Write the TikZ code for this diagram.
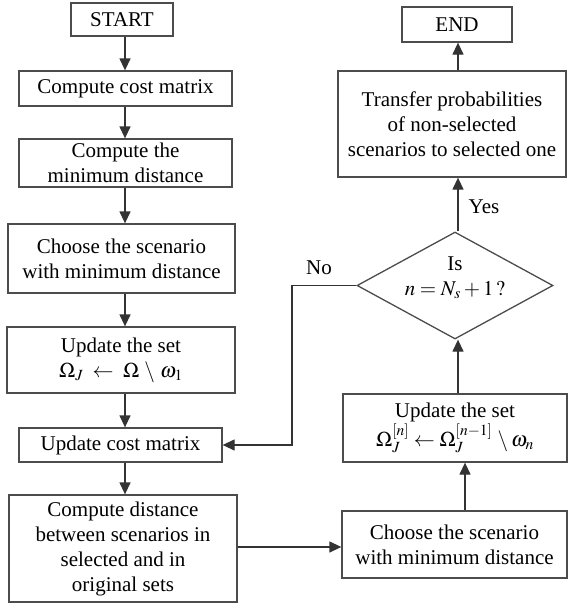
\documentclass[tikz,border=0pt]{standalone}
\usepackage{mathptmx}
\usepackage{fontspec}
\setmainfont{Liberation Serif}
\usetikzlibrary{arrows.meta,shapes.geometric}
\tikzset{
  box/.style={draw=black!70, line width=1.3pt, align=center, inner sep=0pt,
    font=\fontsize{21}{25}\selectfont},
  arr/.style={draw=black!80, line width=1.3pt, -{Triangle[length=12pt,width=11pt]}},
  lbl/.style={font=\fontsize{21}{25}\selectfont},
}
\begin{document}
\begin{tikzpicture}[x=1pt,y=-1pt]
\useasboundingbox (0,0) rectangle (568,605);
% left column
\node[box, minimum width=102pt, minimum height=33pt] (start) at (122,19.5) {START};
\node[box, minimum width=213pt, minimum height=35pt] (cost) at (125.5,88.5) {Compute cost matrix};
\node[box, minimum width=213pt, minimum height=48pt] (mind) at (125.5,163) {Compute the\\minimum distance};
\node[box, minimum width=227pt, minimum height=69pt] (ch1) at (121.5,258.5) {Choose the scenario\\with minimum distance};
\node[box, minimum width=228pt, minimum height=66pt] (up1) at (121,360) {Update the set\\$\Omega_{J}\;\leftarrow\;\Omega\,\setminus\,\omega_{1}$};
\node[box, minimum width=203pt, minimum height=34pt] (upc) at (120.5,445) {Update cost matrix};
\node[box, minimum width=228pt, minimum height=107pt] (cd) at (123,548.5) {Compute distance\\between scenarios in\\selected and in\\original sets};
% right column
\node[box, minimum width=225pt, minimum height=67pt] (ch2) at (454.5,544.5) {Choose the scenario\\with minimum distance};
\node[box, minimum width=224pt, minimum height=68pt] (up2) at (455,428) {Update the set\\$\Omega_J^{[n]} \leftarrow \Omega_J^{[n-1]}\, \setminus \omega_n$};
\node[diamond, draw=black!70, line width=1.3pt, minimum width=196pt, minimum height=107pt, inner sep=0pt, shape aspect=1.83] (dec) at (455,285.5) {};
\node[lbl, align=center] (dect) at (455,278) {Is\\$n = N_s + 1\,?$};
\node[box, minimum width=228pt, minimum height=106pt] (tr) at (452,124) {Transfer probabilities\\of non-selected\\scenarios to selected one};
\node[box, minimum width=110pt, minimum height=35pt] (end) at (457,24.5) {END};
% helper coordinates
\coordinate (lx) at (125,0);
\coordinate (rx) at (458,0);
\coordinate (cx) at (465,0);
\coordinate (hy) at (0,547);
\coordinate (ny) at (292,0);
% left arrows
\draw[arr] (start.south -| lx) -- (cost.north -| lx);
\draw[arr] (cost.south -| lx) -- (mind.north -| lx);
\draw[arr] (mind.south -| lx) -- (ch1.north -| lx);
\draw[arr] (ch1.south -| lx) -- (up1.north -| lx);
\draw[arr] (up1.south -| lx) -- (upc.north -| lx);
\draw[arr] (upc.south -| lx) -- (cd.north -| lx);
% bottom connector
\draw[arr] (cd.east |- hy) -- (ch2.west |- hy);
% right arrows
\draw[arr] (ch2.north -| cx) -- (up2.south -| cx);
\draw[arr] (up2.north -| rx) -- (dec.south -| rx);
\draw[arr] (dec.north -| rx) -- (tr.south -| rx);
\draw[arr] (tr.north -| rx) -- (end.south -| rx);
% No loop
\draw[arr] (dec.west) -- (dec.west -| ny) |- (upc.east);
\node[lbl] (no) at (319,268) {No};
\node[lbl] (yes) at (484,207) {Yes};
\end{tikzpicture}
\end{document}
